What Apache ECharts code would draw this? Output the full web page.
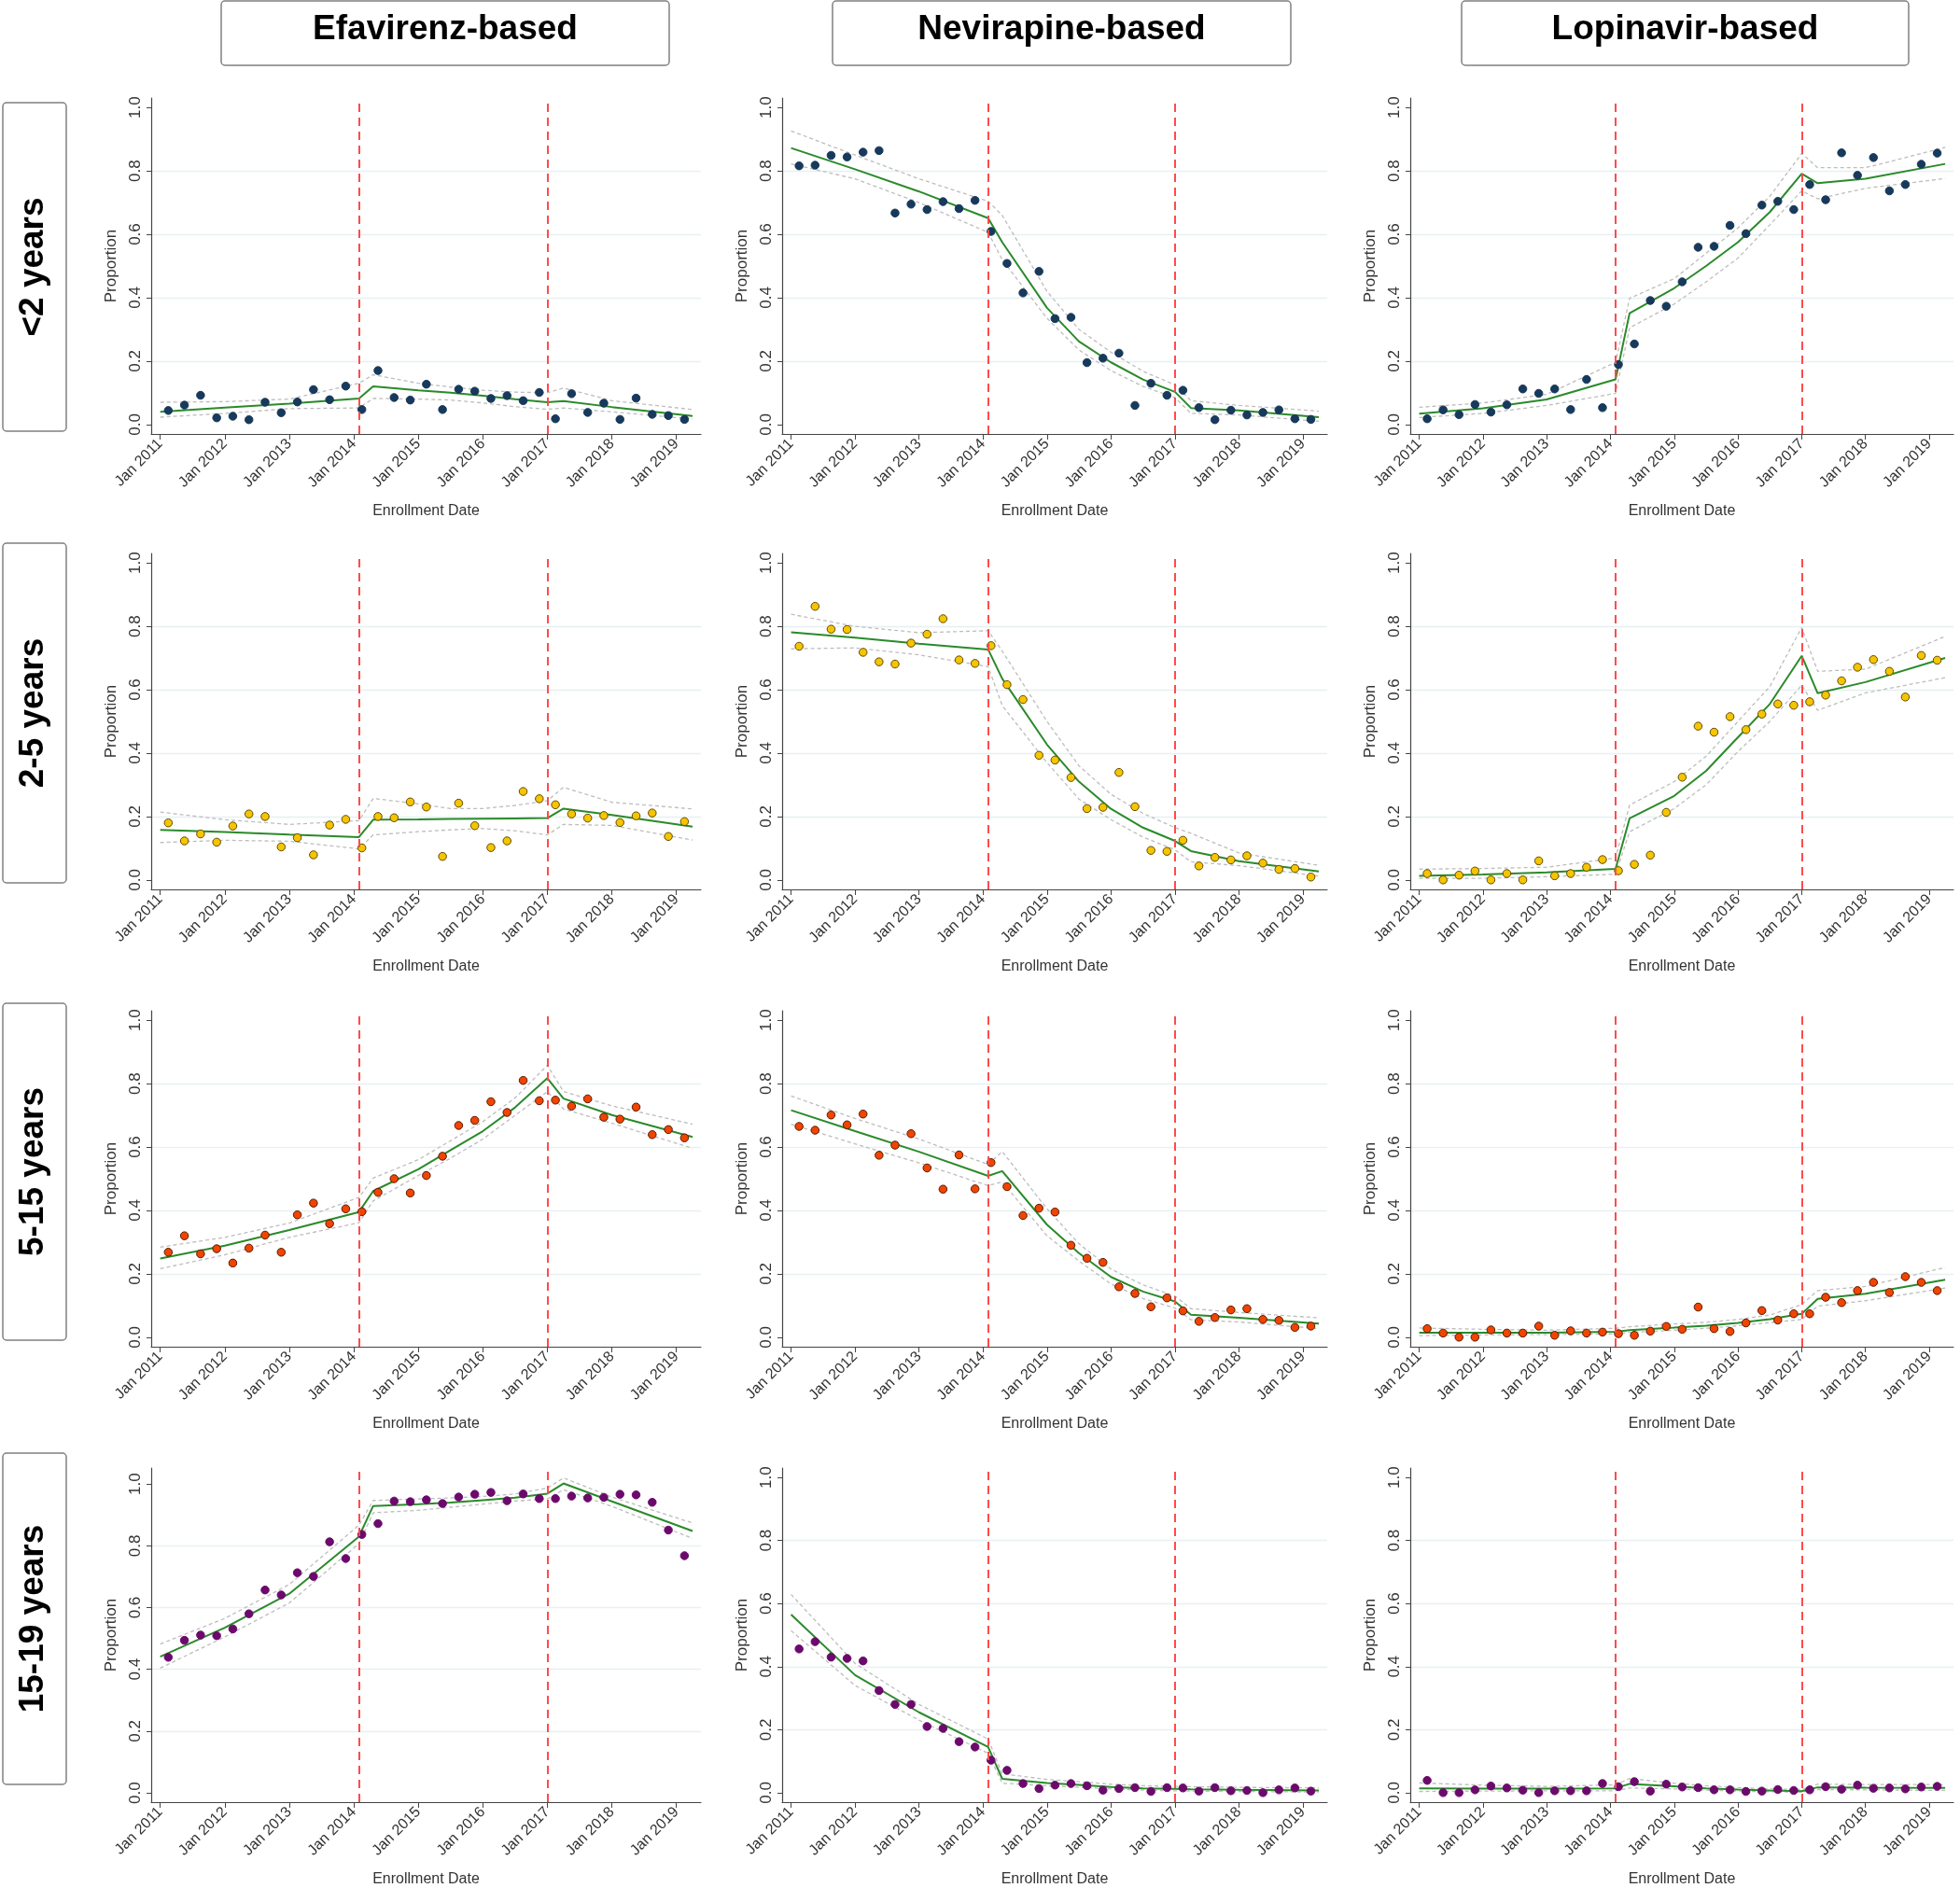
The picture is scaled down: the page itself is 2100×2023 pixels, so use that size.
<!DOCTYPE html>
<html>
<head>
<meta charset="utf-8">
<title>Regimen proportions by age group</title>
<script src="https://cdn.jsdelivr.net/npm/echarts@6/dist/echarts.min.js"></script>
<style>
  html, body { margin: 0; padding: 0; background: #fff; }
  #regimenTrends { width: 2100px; height: 2023px; }
</style>
</head>
<body>
<div id="regimenTrends"></div>
<script>
var drugs = ['Efavirenz-based', 'Nevirapine-based', 'Lopinavir-based'];
var ageGroups = ['<2 years', '2-5 years', '5-15 years', '15-19 years'];
var xTicks = [2011, 2012, 2013, 2014, 2015, 2016, 2017, 2018, 2019];
var yTicks = [0, 0.2, 0.4, 0.6, 0.8, 1.0];
var breakDates = [2014.08, 2017.0];

// quarter mid-points (decimal years) of the observed proportions
var pointDates = [2011.125, 2011.375, 2011.625, 2011.875, 2012.125, 2012.375, 2012.625, 2012.875,
  2013.125, 2013.375, 2013.625, 2013.875, 2014.125, 2014.375, 2014.625, 2014.875,
  2015.125, 2015.375, 2015.625, 2015.875, 2016.125, 2016.375, 2016.625, 2016.875,
  2017.125, 2017.375, 2017.625, 2017.875, 2018.125, 2018.375, 2018.625, 2018.875, 2019.125];
// dates where the fitted curve and CI were read
var knotDates = [2011.0, 2012.0, 2013.0, 2014.08, 2014.3, 2015.0, 2015.5, 2016.0, 2016.5, 2017.0, 2017.25, 2018.0, 2019.25];

// <2 years
var efvLt2 = [0.044,0.061,0.092,0.021,0.026,0.015,0.070,0.037,0.071,0.110,0.078,0.121,0.047,0.170,0.085,0.077,0.127,0.047,0.111,0.105,0.082,0.091,0.075,0.101,0.018,0.097,0.038,0.067,0.016,0.083,0.032,0.028,0.016];
var efvLt2Fit = [0.040,0.053,0.066,0.082,0.120,0.108,0.100,0.091,0.080,0.070,0.074,0.055,0.027];
var efvLt2Hi = [0.070,0.072,0.080,0.130,0.157,0.130,0.118,0.108,0.102,0.100,0.115,0.075,0.047];
var efvLt2Lo = [0.023,0.035,0.050,0.052,0.082,0.080,0.077,0.068,0.056,0.048,0.052,0.040,0.017];

var nvpLt2 = [0.816,0.818,0.849,0.844,0.859,0.864,0.667,0.695,0.678,0.703,0.681,0.707,0.609,0.508,0.415,0.483,0.334,0.338,0.195,0.209,0.225,0.060,0.130,0.092,0.108,0.053,0.015,0.045,0.030,0.038,0.046,0.018,0.016];
var nvpLt2Fit = [0.872,0.805,0.735,0.651,0.575,0.368,0.262,0.196,0.142,0.103,0.052,0.044,0.023];
var nvpLt2Hi = [0.926,0.850,0.775,0.704,0.660,0.420,0.300,0.228,0.168,0.125,0.075,0.060,0.042];
var nvpLt2Lo = [0.822,0.775,0.700,0.606,0.520,0.335,0.235,0.170,0.120,0.085,0.035,0.030,0.010];

var lpvLt2 = [0.018,0.046,0.031,0.063,0.039,0.062,0.112,0.098,0.112,0.047,0.142,0.053,0.189,0.254,0.391,0.373,0.450,0.559,0.562,0.628,0.602,0.692,0.704,0.678,0.757,0.709,0.857,0.786,0.842,0.737,0.757,0.821,0.856];
var lpvLt2Fit = [0.034,0.051,0.079,0.142,0.351,0.430,0.500,0.575,0.670,0.791,0.761,0.775,0.822];
var lpvLt2Hi = [0.054,0.068,0.095,0.196,0.398,0.460,0.540,0.620,0.720,0.855,0.810,0.810,0.874];
var lpvLt2Lo = [0.022,0.035,0.060,0.098,0.305,0.380,0.450,0.525,0.630,0.737,0.712,0.745,0.776];

// 2-5 years
var efv2to5 = [0.180,0.123,0.145,0.119,0.170,0.208,0.200,0.104,0.133,0.079,0.173,0.191,0.101,0.200,0.196,0.246,0.230,0.074,0.242,0.171,0.102,0.123,0.279,0.256,0.237,0.208,0.195,0.203,0.181,0.202,0.211,0.137,0.184];
var efv2to5Fit = [0.158,0.151,0.143,0.135,0.190,0.191,0.192,0.193,0.194,0.195,0.225,0.205,0.168];
var efv2to5Hi = [0.214,0.190,0.175,0.187,0.257,0.240,0.225,0.225,0.235,0.250,0.292,0.245,0.224];
var efv2to5Lo = [0.118,0.125,0.122,0.098,0.142,0.152,0.158,0.162,0.155,0.142,0.175,0.172,0.126];

var nvp2to5 = [0.737,0.863,0.791,0.790,0.718,0.688,0.681,0.747,0.775,0.824,0.694,0.683,0.739,0.616,0.569,0.393,0.378,0.323,0.225,0.229,0.339,0.231,0.093,0.090,0.125,0.044,0.071,0.063,0.076,0.053,0.033,0.036,0.009];
var nvp2to5Fit = [0.781,0.764,0.745,0.727,0.635,0.427,0.310,0.224,0.165,0.123,0.091,0.059,0.027];
var nvp2to5Hi = [0.838,0.800,0.780,0.786,0.722,0.500,0.360,0.270,0.210,0.165,0.147,0.085,0.046];
var nvp2to5Lo = [0.729,0.732,0.710,0.673,0.550,0.370,0.255,0.190,0.135,0.095,0.057,0.045,0.012];

var lpv2to5 = [0.020,0.000,0.015,0.028,0.000,0.020,0.000,0.060,0.013,0.020,0.040,0.064,0.029,0.049,0.078,0.213,0.324,0.485,0.466,0.515,0.474,0.523,0.555,0.551,0.562,0.583,0.628,0.671,0.695,0.658,0.577,0.708,0.693];
var lpv2to5Fit = [0.013,0.017,0.024,0.035,0.194,0.265,0.344,0.450,0.555,0.707,0.589,0.624,0.700];
var lpv2to5Hi = [0.034,0.036,0.040,0.069,0.236,0.310,0.390,0.500,0.610,0.796,0.658,0.665,0.768];
var lpv2to5Lo = [0.005,0.005,0.010,0.018,0.152,0.225,0.300,0.405,0.500,0.614,0.535,0.590,0.638];

// 5-15 years
var efv5to15 = [0.268,0.320,0.263,0.279,0.234,0.281,0.322,0.268,0.386,0.423,0.358,0.405,0.396,0.457,0.500,0.455,0.510,0.571,0.668,0.684,0.743,0.709,0.810,0.746,0.748,0.729,0.752,0.694,0.688,0.726,0.639,0.655,0.629];
var efv5to15Fit = [0.248,0.289,0.338,0.395,0.461,0.530,0.590,0.650,0.725,0.817,0.753,0.701,0.632];
var efv5to15Hi = [0.284,0.315,0.360,0.441,0.502,0.560,0.620,0.680,0.755,0.858,0.775,0.730,0.672];
var efv5to15Lo = [0.216,0.260,0.315,0.361,0.430,0.510,0.565,0.625,0.700,0.775,0.720,0.675,0.596];

var nvp5to15 = [0.665,0.653,0.701,0.670,0.704,0.574,0.606,0.642,0.534,0.467,0.575,0.468,0.551,0.475,0.384,0.407,0.395,0.290,0.249,0.236,0.159,0.138,0.096,0.124,0.083,0.050,0.062,0.086,0.090,0.056,0.053,0.031,0.035];
var nvp5to15Fit = [0.716,0.650,0.585,0.509,0.524,0.355,0.265,0.190,0.144,0.113,0.071,0.061,0.043];
var nvp5to15Hi = [0.761,0.690,0.625,0.545,0.586,0.405,0.295,0.215,0.165,0.130,0.090,0.078,0.061];
var nvp5to15Lo = [0.672,0.610,0.550,0.478,0.490,0.320,0.240,0.168,0.122,0.092,0.055,0.048,0.027];

var lpv5to15 = [0.027,0.013,0.000,0.000,0.023,0.013,0.013,0.035,0.006,0.020,0.013,0.016,0.011,0.006,0.019,0.034,0.025,0.095,0.027,0.018,0.045,0.084,0.054,0.074,0.074,0.126,0.109,0.147,0.173,0.141,0.191,0.173,0.147];
var lpv5to15Fit = [0.014,0.014,0.014,0.017,0.022,0.030,0.036,0.045,0.057,0.074,0.121,0.137,0.181];
var lpv5to15Hi = [0.029,0.025,0.022,0.028,0.033,0.042,0.047,0.056,0.070,0.103,0.147,0.160,0.220];
var lpv5to15Lo = [0.005,0.007,0.008,0.010,0.015,0.022,0.028,0.036,0.046,0.056,0.098,0.115,0.155];

// 15-19 years
var efv15to19 = [0.439,0.494,0.511,0.509,0.531,0.580,0.657,0.641,0.713,0.701,0.813,0.759,0.837,0.872,0.945,0.943,0.949,0.937,0.958,0.967,0.973,0.946,0.968,0.953,0.953,0.961,0.955,0.957,0.967,0.965,0.941,0.851,0.768];
var efv15to19Fit = [0.441,0.535,0.645,0.830,0.929,0.935,0.940,0.948,0.956,0.969,1.002,0.944,0.848];
var efv15to19Hi = [0.482,0.565,0.675,0.867,0.947,0.952,0.955,0.960,0.968,0.987,1.020,0.958,0.874];
var efv15to19Lo = [0.404,0.505,0.615,0.807,0.907,0.915,0.925,0.935,0.945,0.952,0.982,0.928,0.824];

var nvp15to19 = [0.456,0.479,0.430,0.426,0.418,0.324,0.280,0.280,0.210,0.204,0.162,0.145,0.103,0.071,0.029,0.013,0.024,0.029,0.022,0.008,0.013,0.016,0.004,0.016,0.015,0.005,0.016,0.006,0.007,0.000,0.009,0.015,0.005];
var nvp15to19Fit = [0.565,0.373,0.255,0.145,0.044,0.031,0.025,0.018,0.014,0.012,0.011,0.009,0.007];
var nvp15to19Hi = [0.629,0.410,0.280,0.170,0.060,0.042,0.035,0.027,0.022,0.020,0.019,0.017,0.015];
var nvp15to19Lo = [0.514,0.340,0.230,0.125,0.030,0.022,0.017,0.012,0.008,0.006,0.005,0.004,0.002];

var lpv15to19 = [0.039,0.000,0.000,0.009,0.021,0.015,0.008,0.000,0.006,0.006,0.006,0.029,0.019,0.035,0.005,0.027,0.018,0.016,0.009,0.009,0.004,0.005,0.010,0.007,0.009,0.019,0.011,0.024,0.014,0.015,0.012,0.018,0.020];
var lpv15to19Fit = [0.014,0.013,0.013,0.014,0.028,0.020,0.014,0.010,0.007,0.005,0.017,0.016,0.015];
var lpv15to19Hi = [0.031,0.024,0.020,0.025,0.045,0.030,0.022,0.016,0.012,0.010,0.027,0.026,0.026];
var lpv15to19Lo = [0.004,0.005,0.006,0.006,0.015,0.012,0.008,0.005,0.003,0.002,0.010,0.009,0.007];

var panels = [
  [{obs: efvLt2, fit: efvLt2Fit, hi: efvLt2Hi, lo: efvLt2Lo},
   {obs: nvpLt2, fit: nvpLt2Fit, hi: nvpLt2Hi, lo: nvpLt2Lo},
   {obs: lpvLt2, fit: lpvLt2Fit, hi: lpvLt2Hi, lo: lpvLt2Lo}],
  [{obs: efv2to5, fit: efv2to5Fit, hi: efv2to5Hi, lo: efv2to5Lo},
   {obs: nvp2to5, fit: nvp2to5Fit, hi: nvp2to5Hi, lo: nvp2to5Lo},
   {obs: lpv2to5, fit: lpv2to5Fit, hi: lpv2to5Hi, lo: lpv2to5Lo}],
  [{obs: efv5to15, fit: efv5to15Fit, hi: efv5to15Hi, lo: efv5to15Lo},
   {obs: nvp5to15, fit: nvp5to15Fit, hi: nvp5to15Hi, lo: nvp5to15Lo},
   {obs: lpv5to15, fit: lpv5to15Fit, hi: lpv5to15Hi, lo: lpv5to15Lo}],
  [{obs: efv15to19, fit: efv15to19Fit, hi: efv15to19Hi, lo: efv15to19Lo},
   {obs: nvp15to19, fit: nvp15to19Fit, hi: nvp15to19Hi, lo: nvp15to19Lo},
   {obs: lpv15to19, fit: lpv15to19Fit, hi: lpv15to19Hi, lo: lpv15to19Lo}]
];

var dotFill = ['#17395b', '#f6c400', '#ef4500', '#6c0a6c'];
var dotEdge = ['#17395b', '#5e4b00', '#581800', '#6c0a6c'];

// layout
var font = '"Liberation Sans", Arial, sans-serif';
var colLeft = [162, 838, 1511];
var colWidth = [589, 584, 582];
var rowTop = [105, 593, 1083, 1573];
var plotHeight = 360;
var rowBox = [[110, 352], [582, 364], [1075, 361], [1557, 355]];
var headBox = [[237, 480], [892, 491], [1566, 479]];

function pairs(xs, ys) {
  return xs.map(function (x, i) { return [x, ys[i]]; });
}

var grids = [], xAxes = [], yAxes = [], series = [];
var k = 0;
for (var r = 0; r < 4; r++) {
  for (var c = 0; c < 3; c++) {
    var p = panels[r][c];
    grids.push({left: colLeft[c], top: rowTop[r], width: colWidth[c], height: plotHeight});
    xAxes.push({
      type: 'value', gridIndex: k, min: 2010.86, max: 2019.38,
      name: 'Enrollment Date', nameLocation: 'middle', nameGap: 75,
      nameTextStyle: {fontFamily: font, fontSize: 16, color: '#333'},
      axisLine: {onZero: false, lineStyle: {color: '#444', width: 1.2}},
      axisTick: {show: true, customValues: xTicks, length: 6, lineStyle: {color: '#444'}},
      axisLabel: {customValues: xTicks, rotate: 45, margin: 8, fontFamily: font, fontSize: 16, color: '#333',
        formatter: function (v) { return 'Jan ' + Math.round(v); }},
      splitLine: {show: false}
    });
    yAxes.push({
      type: 'value', gridIndex: k, min: -0.03, max: (r === 3 && c === 0) ? 1.052 : 1.03,
      name: 'Proportion', nameLocation: 'middle', nameGap: 34,
      nameTextStyle: {fontFamily: font, fontSize: 17, color: '#333'},
      axisLine: {show: true, onZero: false, lineStyle: {color: '#444', width: 1.2}},
      axisTick: {show: true, customValues: yTicks, length: 5, lineStyle: {color: '#444'}},
      axisLabel: {customValues: yTicks, rotate: 90, margin: 8, fontFamily: font, fontSize: 17, color: '#333',
        formatter: function (v) { return v.toFixed(1); }},
      splitLine: {show: true, showMinLine: false, showMaxLine: false, lineStyle: {color: '#e8f0f2', width: 1.4}}
    });
    series.push({
      type: 'line', xAxisIndex: k, yAxisIndex: k, data: pairs(knotDates, p.hi),
      showSymbol: false, silent: true, z: 1,
      lineStyle: {color: '#bdbdbd', width: 1.3, type: [4, 3]}
    });
    series.push({
      type: 'line', xAxisIndex: k, yAxisIndex: k, data: pairs(knotDates, p.lo),
      showSymbol: false, silent: true, z: 1,
      lineStyle: {color: '#bdbdbd', width: 1.3, type: [4, 3]},
      markLine: {
        silent: true, symbol: 'none', label: {show: false},
        lineStyle: {color: '#ff4b4b', width: 2, type: [9, 6]},
        data: breakDates.map(function (d) { return {xAxis: d}; })
      }
    });
    series.push({
      type: 'line', xAxisIndex: k, yAxisIndex: k, data: pairs(knotDates, p.fit),
      showSymbol: false, silent: true, z: 3,
      lineStyle: {color: '#2a8a2a', width: 2}
    });
    series.push({
      type: 'scatter', xAxisIndex: k, yAxisIndex: k, data: pairs(pointDates, p.obs),
      symbolSize: 8.5, z: 4,
      itemStyle: {color: dotFill[r], borderColor: dotEdge[r], borderWidth: 1, opacity: 1}
    });
    k++;
  }
}

var graphics = [];
drugs.forEach(function (name, i) {
  graphics.push({type: 'rect', shape: {x: headBox[i][0], y: 1, width: headBox[i][1], height: 69, r: 4},
    style: {fill: '#fff', stroke: '#808080', lineWidth: 1.5}});
  graphics.push({type: 'text', x: headBox[i][0] + headBox[i][1] / 2, y: 32,
    style: {text: name, align: 'center', verticalAlign: 'middle', fill: '#000',
      font: 'bold 37px ' + font}});
});
ageGroups.forEach(function (name, i) {
  graphics.push({type: 'rect', shape: {x: 3, y: rowBox[i][0], width: 68, height: rowBox[i][1], r: 4},
    style: {fill: '#fff', stroke: '#808080', lineWidth: 1.5}});
  graphics.push({type: 'text', x: 36, y: rowBox[i][0] + rowBox[i][1] / 2, rotation: Math.PI / 2,
    style: {text: name, align: 'center', verticalAlign: 'middle', fill: '#000',
      font: 'bold 37px ' + font}});
});

var option = {
  backgroundColor: '#fff',
  animation: false,
  grid: grids,
  xAxis: xAxes,
  yAxis: yAxes,
  series: series,
  graphic: graphics
};
echarts.init(document.getElementById('regimenTrends')).setOption(option);
</script>
</body>
</html>
